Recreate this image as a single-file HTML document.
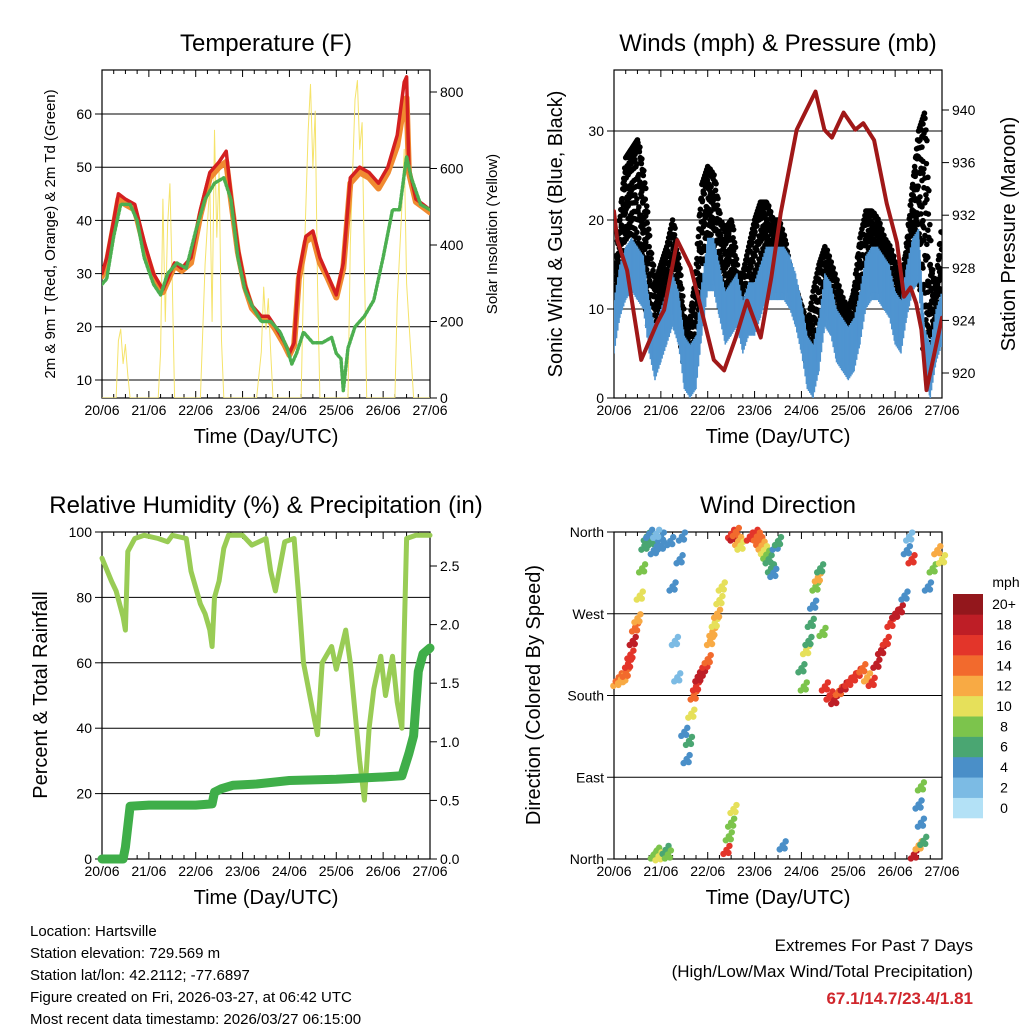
<!DOCTYPE html>
<html><head><meta charset="utf-8"><style>
body{margin:0;background:#fff}
svg{display:block;font-family:"Liberation Sans",sans-serif}
</style></head><body>
<svg id="s" width="1024" height="1024" viewBox="0 0 1024 1024"></svg>
<script>
// ---------- DATA ----------
const tempTimes=[0,0.1,0.25,0.35,0.5,0.7,0.9,1.1,1.3,1.45,1.55,1.7,1.9,2.1,2.3,2.5,2.65,2.75,2.9,3.05,3.2,3.4,3.55,3.7,3.9,4.0,4.1,4.2,4.35,4.5,4.65,4.8,5.0,5.15,5.3,5.5,5.7,5.9,6.1,6.3,6.45,6.5,6.55,6.7,6.85,7.0];
const tempRed=[30,33,40,45,44,43,36,30,27,30,32,31,33,42,49,51,53,45,35,28,24,22,22,20,17,15,17,30,37,38,33,30,26,32,48,50,49,47,50,56,66,67,50,44,43,42];
const tempOrange=[29.5,32,39,44,43,42,35,29.5,26.5,29.5,31.5,30.5,32,41,48,50,51,44,34,27.5,23.5,21.5,21.5,19.5,16.5,14.7,16.5,29,36,37,32,29.5,25.5,31,47,49,48,46,49,54,62,63,49,43.5,42.5,41.5];
const dewTimes=[0,0.1,0.25,0.4,0.6,0.75,0.9,1.1,1.25,1.4,1.6,1.8,2.0,2.2,2.4,2.6,2.75,2.9,3.05,3.2,3.4,3.6,3.8,3.95,4.05,4.15,4.3,4.5,4.7,4.9,5.0,5.1,5.15,5.25,5.4,5.6,5.8,6.0,6.2,6.35,6.5,6.6,6.8,7.0];
const dewGreen=[28,29,37,43,43,40,33,28,26,30,32,31,38,44,47,48,44,33,27,24,21,21,19,16,13,15,19,17,17,18,15,14,8,16,20,22,25,33,42,42,52,48,43,42];
const solarTimes=[0,0.3,0.35,0.4,0.45,0.5,0.55,0.6,1.2,1.25,1.3,1.35,1.4,1.45,1.5,1.55,2.1,2.2,2.3,2.35,2.4,2.45,2.5,2.55,2.6,3.3,3.4,3.45,3.5,3.55,3.6,3.65,4.25,4.3,4.4,4.45,4.5,4.55,4.6,4.65,5.25,5.3,5.4,5.45,5.5,5.55,5.6,5.65,6.25,6.3,6.4,6.45,6.5,6.55,6.6,6.65,7.0];
const solarVals=[0,0,150,180,90,140,60,0,0,120,520,200,450,560,300,0,0,350,560,200,700,420,600,150,0,0,120,290,180,260,120,0,0,300,700,820,600,750,300,0,0,400,780,830,650,720,350,0,0,250,500,650,300,200,100,0,0];
const windTimes=[0,0.125,0.25,0.375,0.5,0.625,0.75,0.875,1,1.125,1.25,1.375,1.5,1.625,1.75,1.875,2,2.125,2.25,2.375,2.5,2.625,2.75,2.875,3,3.125,3.25,3.375,3.5,3.625,3.75,3.875,4,4.125,4.25,4.375,4.5,4.625,4.75,4.875,5,5.125,5.25,5.375,5.5,5.625,5.75,5.875,6,6.125,6.25,6.375,6.5,6.625,6.75,6.875,7];
const windMid=[8,12,14,15,14,13,8,5,7,9,11,9,4,3,4,10,15,15,12,9,10,11,8,10,10,12,14,14,14,14,13,11,8,4,3,6,11,10,7,6,5,6,9,13,14,14,13,12,9,8,12,15,16,5,3,7,9];
const gustHigh=[12,20,27,28,29,25,17,13,15,17,20,15,8,9,14,24,26,25,20,19,20,14,14,17,20,22,22,20,20,18,14,12,10,8,12,15,17,15,13,11,10,12,18,21,21,20,18,17,15,13,17,24,30,32,15,12,20];
const presTimes=[0,0.07,0.28,0.58,0.92,1.07,1.35,1.64,1.92,2.13,2.35,2.6,2.84,3.13,3.36,3.56,3.9,4.3,4.49,4.65,4.9,5.15,5.32,5.55,5.82,6.04,6.19,6.33,6.45,6.56,6.67,7.0];
const presVals=[932.3,930.1,927.8,921,923.8,924.8,930.1,928,924,921,920.2,922.7,925.5,922.7,927.3,932.2,938.5,941.4,938.5,937.9,939.8,938.5,939,937.7,932.9,929.9,925.8,926.5,925.3,923.3,918.7,924.2];
const rhTimes=[0,0.2,0.3,0.45,0.5,0.55,0.7,0.9,1.2,1.4,1.5,1.8,1.9,2.0,2.1,2.2,2.3,2.35,2.4,2.5,2.6,2.7,3.0,3.2,3.5,3.6,3.7,3.9,4.1,4.2,4.3,4.5,4.6,4.7,4.9,5.0,5.2,5.3,5.4,5.5,5.6,5.7,5.8,5.95,6.05,6.2,6.3,6.4,6.5,6.7,7.0];
const rhVals=[92,85,82,74,70,94,98,99,98,97,99,98,88,83,78,75,70,65,80,85,95,99,99,96,98,88,82,97,98,80,60,45,38,60,65,58,70,60,45,30,18,40,52,62,50,62,48,40,98,99,99];
const rainTimes=[0,0.45,0.5,0.6,1.0,2.0,2.35,2.4,2.55,2.8,3.3,4.0,5.0,6.0,6.4,6.55,6.65,6.75,6.85,7.0];
const rainVals=[0,0,0.1,0.45,0.46,0.46,0.47,0.57,0.6,0.63,0.64,0.67,0.68,0.70,0.71,0.9,1.05,1.6,1.75,1.8];
const dirTimes=[0.05,0.1,0.15,0.2,0.25,0.3,0.35,0.4,0.45,0.5,0.55,0.6,0.65,0.7,0.75,0.8,0.85,0.9,0.95,1.0,0.85,0.9,1.0,1.1,1.15,1.2,1.25,1.3,1.35,1.4,1.45,1.5,1.55,1.6,1.65,1.7,1.75,1.8,1.85,1.9,1.95,2.0,2.05,2.1,2.15,2.2,2.25,2.3,2.4,2.45,2.5,2.55,2.5,2.55,2.6,2.65,2.7,2.9,3.0,3.05,3.1,3.15,3.2,3.25,3.3,3.35,3.4,3.45,3.5,3.6,4.0,4.05,4.1,4.15,4.2,4.25,4.3,4.35,4.4,4.45,4.5,4.6,4.7,4.8,4.9,5.0,5.1,5.2,5.3,5.4,5.5,5.6,5.7,5.8,5.9,6.0,6.1,6.2,6.25,6.3,6.35,6.4,6.5,6.5,6.55,6.55,6.6,6.7,6.8,6.9,7.0];
const dirVals=[195,200,198,200,205,215,225,240,255,265,290,320,345,355,358,350,5,8,3,355,340,358,345,10,5,350,300,240,200,330,355,140,110,130,160,180,190,200,205,210,215,220,240,250,260,270,285,300,10,25,40,55,358,355,360,350,345,355,358,355,350,345,340,335,330,320,315,345,350,15,210,190,230,240,260,280,300,310,320,250,190,180,175,185,190,195,200,205,210,200,195,215,230,240,260,270,275,290,340,355,330,5,15,60,80,40,20,300,320,340,330];
const dirSpeeds=[12,13,11,12,14,15,16,17,14,12,9,8,6,5,4,6,8,7,9,4,3,2,4,6,8,3,3,2,2,4,3,3,4,6,9,14,16,17,18,17,16,14,12,11,10,12,10,9,16,8,7,9,16,18,14,12,10,15,16,14,13,12,10,8,6,5,4,3,6,4,6,8,9,6,5,4,8,12,6,7,15,16,17,14,18,16,15,16,14,12,16,18,17,15,16,18,17,4,3,2,16,18,11,4,7,3,6,4,8,12,10];
const cbLabels=["0","2","4","6","8","10","12","14","16","18","20+"];
const cbColors=["#b3e1f6","#7cbbe4","#4a8fc8","#4aa672","#7cc44c","#e6e05a","#f8aa44","#f26a2d","#e3352a","#be1e26","#93171c"];
const dayLabels=["20/06","21/06","22/06","23/06","24/06","25/06","26/06","27/06"];

// ---------- HELPERS ----------
const S=document.getElementById('s');const NS='http://www.w3.org/2000/svg';
function el(tag,attrs,parent,text){const e=document.createElementNS(NS,tag);for(const k in attrs)e.setAttribute(k,attrs[k]);if(text!==undefined)e.textContent=text;(parent||S).appendChild(e);return e;}
function lin(d0,d1,r0,r1){return v=>r0+(v-d0)*(r1-r0)/(d1-d0);}
function colorFor(sp){let i=Math.round(sp/2);if(i>10)i=10;if(i<0)i=0;return cbColors[i];}
function panel(name,x0,y0,x1,y1,yTicks,yS,yLabs,ryTicks,ryS,ryLabs,title,grid){
  const g=el('g',{},S);
  const xs=lin(0,7,x0,x1);
  if(grid)yTicks.forEach(v=>{const l=el('line',{x1:x0,x2:x1,y1:yS(v),y2:yS(v),stroke:'#000','stroke-width':1},g);});
  const fr=el('rect',{x:x0,y:y0,width:x1-x0,height:y1-y0,fill:'none',stroke:'#000','stroke-width':1.2},g);
  for(let d=0;d<=7;d++){const X=xs(d);el('line',{x1:X,x2:X,y1:y1,y2:y1-7,stroke:'#000'},g);el('line',{x1:X,x2:X,y1:y0,y2:y0+7,stroke:'#000'},g);
    const t=el('text',{x:X,y:y1+17,'font-size':14,'text-anchor':'middle'},g,dayLabels[d]);
    if(d<7)for(let m=1;m<4;m++){const Xm=xs(d+m/4);el('line',{x1:Xm,x2:Xm,y1:y1,y2:y1-4,stroke:'#000'},g);el('line',{x1:Xm,x2:Xm,y1:y0,y2:y0+4,stroke:'#000'},g);}}
  yTicks.forEach((v,i)=>{const Y=yS(v);el('line',{x1:x0,x2:x0-7,y1:Y,y2:Y,stroke:'#000'},g);const t=el('text',{x:x0-10,y:Y+5,'font-size':14,'text-anchor':'end'},g,yLabs[i]);});
  if(ryTicks)ryTicks.forEach((v,i)=>{const Y=ryS(v);el('line',{x1:x1,x2:x1+7,y1:Y,y2:Y,stroke:'#000'},g);const t=el('text',{x:x1+10,y:Y+5,'font-size':14},g,ryLabs[i]);});
  const tt=el('text',{x:(x0+x1)/2,y:y0-19,'font-size':24,'text-anchor':'middle'},g,title);
  const xt=el('text',{x:(x0+x1)/2,y:y1+45,'font-size':20,'text-anchor':'middle'},g,'Time (Day/UTC)');
  return {g,xs};
}
function path(g,times,vals,xs,ys,attrs,name){let d='';times.forEach((t,i)=>{d+=(i?'L':'M')+xs(t).toFixed(1)+','+ys(vals[i]).toFixed(1);});const p=el('path',Object.assign({d:d,fill:'none','stroke-linejoin':'round','stroke-linecap':'round'},attrs),g);return p;}

// ---------- PANEL 1: TEMPERATURE ----------
{const x0=102,x1=430,y0=70,y1=398;const ys=lin(10,60,380,114),rs=lin(0,800,398,92);
const P=panel('temperature-panel',x0,y0,x1,y1,[10,20,30,40,50,60],ys,['10','20','30','40','50','60'],[0,200,400,600,800],rs,['0','200','400','600','800'],'Temperature (F)',true);
const cp=el('clipPath',{id:'c1'},P.g);el('rect',{x:x0,y:y0,width:x1-x0,height:y1-y0},cp);
const g=el('g',{'clip-path':'url(#c1)'},P.g);
path(g,solarTimes,solarVals,P.xs,rs,{stroke:'#f5e36a','stroke-width':1},'solar-insolation-line');
path(g,tempTimes,tempOrange,P.xs,ys,{stroke:'#f08a30','stroke-width':6},'temp-9m-orange-line');
path(g,tempTimes,tempRed,P.xs,ys,{stroke:'#d42020','stroke-width':3.5},'temp-2m-red-line');
path(g,dewTimes,dewGreen,P.xs,ys,{stroke:'#4caf50','stroke-width':3.5,'stroke-dasharray':'2 2'},'dewpoint-green-line');
let t=el('text',{transform:'translate(55,234) rotate(-90)','font-size':15,'text-anchor':'middle'},P.g,'2m & 9m T (Red, Orange) & 2m Td (Green)');
t=el('text',{transform:'translate(497,234) rotate(-90)','font-size':15,'text-anchor':'middle'},P.g,'Solar Insolation (Yellow)');}

// ---------- PANEL 2: WINDS ----------
{const x0=614,x1=942,y0=70,y1=398;const ys=lin(0,30,398,131),rs=lin(920,940,373,110);
const P=panel('winds-panel',x0,y0,x1,y1,[0,10,20,30],ys,['0','10','20','30'],[920,924,928,932,936,940],rs,['920','924','928','932','936','940'],'Winds (mph) & Pressure (mb)',true);
const cp=el('clipPath',{id:'c2'},P.g);el('rect',{x:x0,y:y0,width:x1-x0,height:y1-y0},cp);
const g=el('g',{'clip-path':'url(#c2)'},P.g);
const bg=el('g',{},g);
const fr=[0.02,0.14,0.27,0.4,0.53,0.66,0.8,0.93];
for(let i=0;i<windTimes.length-1;i++){const n=6;for(let k=0;k<n;k++){const f=k/n;const tm=windTimes[i]+f*(windTimes[i+1]-windTimes[i]);
 const lo=windMid[i]+(windMid[i+1]-windMid[i])*f,hi=gustHigh[i]+(gustHigh[i+1]-gustHigh[i])*f;
 fr.forEach((q,j)=>{const v=lo+(hi-lo)*((q+(k%2)*0.06)%1);const c=el('circle',{cx:P.xs(tm)+((j%2)?1.5:-1.5),cy:ys(v),r:2.8,fill:'#000'},bg);
 });
 const c=el('circle',{cx:P.xs(tm),cy:ys(hi),r:2.8,fill:'#000'},bg);}}
const wg=el('g',{},g);
for(let i=0;i<windTimes.length-1;i++){const n=14;for(let k=0;k<n;k++){const f=k/n;const tm=windTimes[i]+f*(windTimes[i+1]-windTimes[i]);
 const m=windMid[i]+(windMid[i+1]-windMid[i])*f;const a=(k%3)*0.8;
 const c=el('line',{x1:P.xs(tm),x2:P.xs(tm),y1:ys(m-3+a),y2:ys(m+3-a*0.5),stroke:'#4f94d0','stroke-width':1.6},wg);
 }}
path(g,presTimes,presVals,P.xs,rs,{stroke:'#a01818','stroke-width':4},'pressure-maroon-line');
let t=el('text',{transform:'translate(562,234) rotate(-90)','font-size':20,'text-anchor':'middle'},P.g,'Sonic Wind & Gust (Blue, Black)');
t=el('text',{transform:'translate(1015,234) rotate(-90)','font-size':20,'text-anchor':'middle'},P.g,'Station Pressure (Maroon)');}

// ---------- PANEL 3: RH & PRECIP ----------
{const x0=102,x1=430,y0=532,y1=859;const ys=lin(0,100,859,532),rs=lin(0,2.5,859,566);
const P=panel('humidity-precip-panel',x0,y0,x1,y1,[0,20,40,60,80,100],ys,['0','20','40','60','80','100'],[0,0.5,1,1.5,2,2.5],rs,['0.0','0.5','1.0','1.5','2.0','2.5'],'Relative Humidity (%) & Precipitation (in)',true);
const cp=el('clipPath',{id:'c3'},P.g);el('rect',{x:x0-5,y:y0,width:x1-x0+10,height:y1-y0+5},cp);
const g=el('g',{'clip-path':'url(#c3)'},P.g);
path(g,rhTimes,rhVals,P.xs,ys,{stroke:'#99cc55','stroke-width':5},'relative-humidity-line');
path(g,rainTimes,rainVals,P.xs,rs,{stroke:'#3fae49','stroke-width':9},'total-rainfall-line');
let t=el('text',{transform:'translate(47,695) rotate(-90)','font-size':20,'text-anchor':'middle'},P.g,'Percent & Total Rainfall');}

// ---------- PANEL 4: WIND DIRECTION ----------
{const x0=614,x1=942,y0=532,y1=859;const ys=lin(0,360,859,532);
const P=panel('wind-direction-panel',x0,y0,x1,y1,[0,90,180,270,360],ys,['North','East','South','West','North'],null,null,null,'Wind Direction',true);
const g=el('g',{},P.g);
const offs=[[0,0],[3,-4],[-3,4],[2,3]];
dirTimes.forEach((tm,i)=>{offs.forEach(o=>{const c=el('circle',{cx:P.xs(tm)+o[0],cy:ys(dirVals[i])+o[1],r:3.2,fill:colorFor(dirSpeeds[i])},g);});});
let t=el('text',{transform:'translate(540,695) rotate(-90)','font-size':20,'text-anchor':'middle'},P.g,'Direction (Colored By Speed)');
const cb=el('g',{},S);
const bh=224/11;
cbColors.forEach((c,i)=>{const y=818-(i+1)*bh;const r=el('rect',{x:953,y:y,width:30,height:bh+0.3,fill:c},cb);
 const l=el('text',{x:1004,y:y+bh/2+5,'font-size':14,'text-anchor':'middle'},cb,cbLabels[i]);});
const u=el('text',{x:1006,y:587,'font-size':14,'text-anchor':'middle'},cb,'mph');}

// ---------- FOOTER ----------
const info=["Location: Hartsville","Station elevation: 729.569 m","Station lat/lon: 42.2112; -77.6897","Figure created on Fri, 2026-03-27, at 06:42 UTC","Most recent data timestamp: 2026/03/27 06:15:00"];
info.forEach((s,i)=>{const t=el('text',{x:30,y:936+i*22,'font-size':15},S,s);});
let e=el('text',{x:973,y:951,'font-size':17,'text-anchor':'end'},S,'Extremes For Past 7 Days');
e=el('text',{x:973,y:977,'font-size':17,'text-anchor':'end'},S,'(High/Low/Max Wind/Total Precipitation)');
e=el('text',{x:973,y:1004,'font-size':17,'font-weight':'bold','fill':'#d0262c','text-anchor':'end'},S,'67.1/14.7/23.4/1.81');
</script>
</body></html>
